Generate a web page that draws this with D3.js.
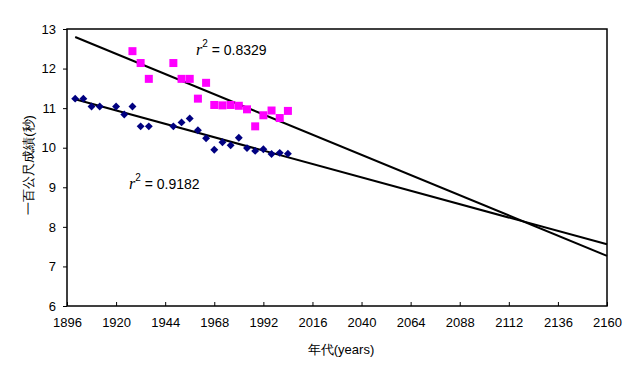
<!DOCTYPE html>
<html>
<head>
<meta charset="utf-8">
<script src="https://cdn.jsdelivr.net/npm/d3@7"></script>
<style>
  body { margin: 0; background: #fff; }
  text { font-family: "Liberation Sans", Arial, sans-serif; }
</style>
</head>
<body>
<div id="chart"></div>
<script>
// men's 100m (blue diamonds)
const menYears = [1900, 1904, 1908, 1912, 1920, 1924, 1928, 1932, 1936, 1948, 1952, 1956,
  1960, 1964, 1968, 1972, 1976, 1980, 1984, 1988, 1992, 1996, 2000, 2004];
const menTimes = [11.24, 11.24, 11.04, 11.04, 11.04, 10.84, 11.04, 10.54, 10.54, 10.54, 10.64, 10.74,
  10.44, 10.24, 9.95, 10.14, 10.06, 10.25, 9.99, 9.92, 9.96, 9.84, 9.87, 9.85];
// women's 100m (magenta squares)
const womenYears = [1928, 1932, 1936, 1948, 1952, 1956, 1960, 1964, 1968, 1972, 1976, 1980,
  1984, 1988, 1992, 1996, 2000, 2004];
const womenTimes = [12.44, 12.14, 11.74, 12.14, 11.74, 11.74, 11.24, 11.64, 11.08, 11.07, 11.08, 11.06,
  10.97, 10.54, 10.82, 10.94, 10.75, 10.93];

const xTicks = [1896, 1920, 1944, 1968, 1992, 2016, 2040, 2064, 2088, 2112, 2136, 2160];
const yTicks = [6, 7, 8, 9, 10, 11, 12, 13];
const trendRange = [1900, 2160];

const width = 640, height = 376;
const margin = { top: 29, right: 33, bottom: 70, left: 67 };

const svg = d3.select("#chart").append("svg")
  .attr("width", width)
  .attr("height", height);

const x = d3.scaleLinear().domain([1896, 2160]).range([margin.left, width - margin.right]);
const y = d3.scaleLinear().domain([6, 13]).range([height - margin.bottom, margin.top]);

// plot border
svg.append("rect")
  .attr("x", x(1896)).attr("y", y(13))
  .attr("width", x(2160) - x(1896)).attr("height", y(6) - y(13))
  .attr("fill", "none").attr("stroke", "#000").attr("stroke-width", 1.5);

// axes
const xAxis = svg.append("g")
  .attr("transform", `translate(0,${y(6)})`)
  .call(d3.axisBottom(x).tickValues(xTicks).tickFormat(d3.format("d")).tickSizeInner(-4).tickSizeOuter(0).tickPadding(12));
xAxis.select(".domain").remove();
xAxis.selectAll("text").attr("font-size", 13).attr("font-family", "Liberation Sans, sans-serif");

const yAxis = svg.append("g")
  .attr("transform", `translate(${x(1896)},0)`)
  .call(d3.axisLeft(y).tickValues(yTicks).tickFormat(d3.format("d")).tickSizeInner(4).tickSizeOuter(0).tickPadding(7));
yAxis.select(".domain").remove();
yAxis.selectAll("text").attr("font-size", 13).attr("font-family", "Liberation Sans, sans-serif");

// least squares trend line
function fit(xs, ys) {
  const mx = d3.mean(xs), my = d3.mean(ys);
  let sxy = 0, sxx = 0;
  xs.forEach((v, i) => { sxy += (v - mx) * (ys[i] - my); sxx += (v - mx) * (v - mx); });
  const b = sxy / sxx;
  return t => my + b * (t - mx);
}
const line = d3.line().x(d => x(d[0])).y(d => y(d[1]));
[fit(menYears, menTimes), fit(womenYears, womenTimes)].forEach(f => {
  svg.append("path")
    .attr("d", line(trendRange.map(t => [t, f(t)])))
    .attr("fill", "none").attr("stroke", "#000").attr("stroke-width", 2);
});

// markers
svg.append("g").selectAll("rect")
  .data(womenYears.map((t, i) => [t, womenTimes[i]]))
  .join("rect")
  .attr("x", d => x(d[0]) - 4).attr("y", d => y(d[1]) - 4)
  .attr("width", 8).attr("height", 8)
  .attr("fill", "#ff00ff");

svg.append("g").selectAll("path")
  .data(menYears.map((t, i) => [t, menTimes[i]]))
  .join("path")
  .attr("d", d3.symbol(d3.symbolDiamond2, 40))
  .attr("transform", d => `translate(${x(d[0])},${y(d[1])})`)
  .attr("fill", "#000080");

// r^2 labels
function r2Label(px, py, txt) {
  const t = svg.append("text").attr("x", px).attr("y", py).attr("font-size", 14);
  t.append("tspan").text("r").attr("font-family", "Liberation Serif, serif").attr("font-style", "italic").attr("font-size", 16);
  t.append("tspan").text("2").attr("dy", -8).attr("font-size", 10);
  t.append("tspan").text(" = " + txt).attr("dy", 8);
}
r2Label(196, 55, "0.8329");
r2Label(129, 189, "0.9182");

// axis titles
svg.append("text")
  .attr("x", 341).attr("y", 354)
  .attr("text-anchor", "middle").attr("font-size", 13)
  .attr("font-family", "Noto Sans CJK TC, sans-serif")
  .text("年代(years)");

svg.append("text")
  .attr("transform", "translate(33,165) rotate(-90)")
  .attr("text-anchor", "middle").attr("font-size", 13)
  .attr("font-family", "Noto Sans CJK TC, sans-serif")
  .text("一百公尺成績(秒)");
</script>
</body>
</html>
